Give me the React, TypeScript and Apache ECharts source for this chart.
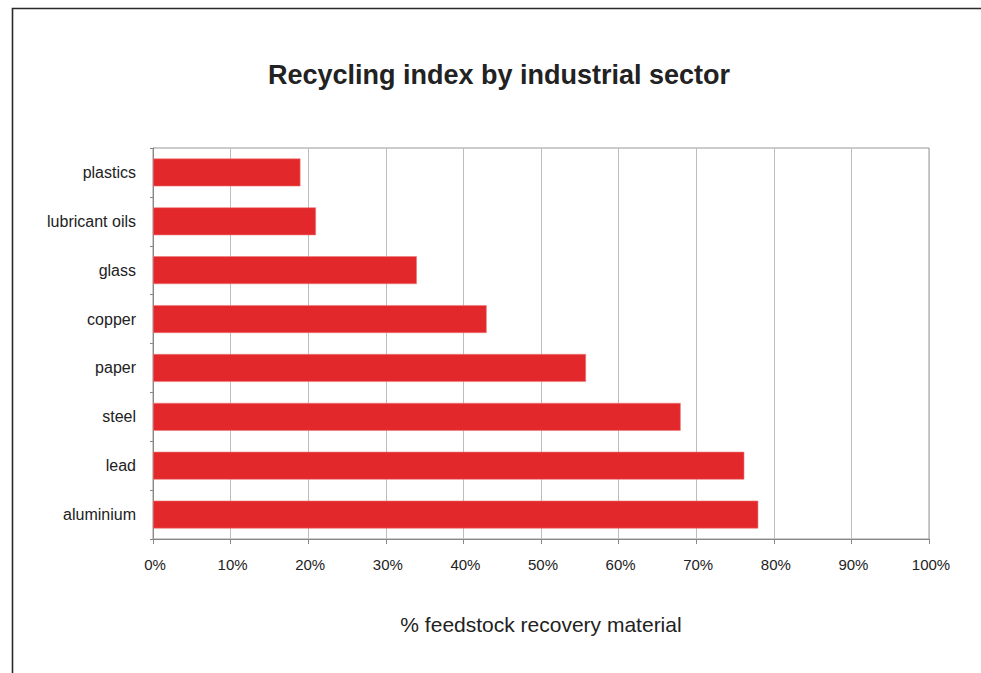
import React, { useEffect, useRef } from "react";
import * as echarts from "echarts";

const categories = ["plastics", "lubricant oils", "glass", "copper", "paper", "steel", "lead", "aluminium"];
const recoveryValues = [19, 21, 34, 43, 55.8, 68, 76.2, 78];
const titleText = "Recycling index by industrial sector";
const axisNameText = "% feedstock recovery material";

export default function App() {
  const ref = useRef<HTMLDivElement>(null);
  useEffect(() => {
    document.body.style.margin = "0";
    const chart = echarts.init(ref.current!, undefined, { renderer: "svg" });
    chart.setOption({
      animation: false,
      backgroundColor: "#ffffff",
      textStyle: { fontFamily: "'Liberation Sans', Arial, sans-serif" },
      graphic: [
        {
          type: "rect",
          shape: { x: 12.5, y: 8.5, width: 1000, height: 700 },
          style: { fill: "none", stroke: "#2a2a2a", lineWidth: 1.6 },
          silent: true,
        },
        {
          type: "text",
          x: 499,
          y: 75,
          style: {
            text: titleText,
            fontSize: 27,
            fontWeight: "bold",
            fill: "#222222",
            fontFamily: "'Liberation Sans', Arial, sans-serif",
            textAlign: "center",
            textVerticalAlign: "middle",
          },
        },
      ],
      grid: {
        left: 153,
        top: 148,
        right: 52,
        bottom: 134,
        show: true,
        borderColor: "#999999",
        borderWidth: 1,
      },
      xAxis: {
        type: "value",
        min: 0,
        max: 100,
        interval: 10,
        name: axisNameText,
        nameLocation: "middle",
        nameGap: 75,
        nameTextStyle: { fontSize: 21, color: "#222222" },
        axisLine: { show: true, lineStyle: { color: "#888888" } },
        axisTick: { show: true, length: 5, lineStyle: { color: "#888888" } },
        axisLabel: {
          formatter: "{value}%",
          fontSize: 15,
          color: "#222222",
          margin: 18,
          padding: [0, 0, 0, 4],
        },
        splitLine: { show: true, lineStyle: { color: "#bdbdbd", width: 1 } },
      },
      yAxis: {
        type: "category",
        data: categories,
        inverse: true,
        axisLine: { show: true, lineStyle: { color: "#888888" } },
        axisTick: { show: true, length: 3, lineStyle: { color: "#888888" } },
        axisLabel: { fontSize: 16, color: "#222222", margin: 17 },
        splitLine: { show: false },
      },
      series: [
        {
          type: "bar",
          data: recoveryValues,
          barCategoryGap: "43%",
          itemStyle: { color: "#e2282a", borderColor: "#ec7a7a", borderWidth: 0.6 },
        },
      ],
    });
    return () => chart.dispose();
  }, []);
  return <div ref={ref} style={{ position: "absolute", left: 0, top: 0, width: 981, height: 673 }} />;
}
